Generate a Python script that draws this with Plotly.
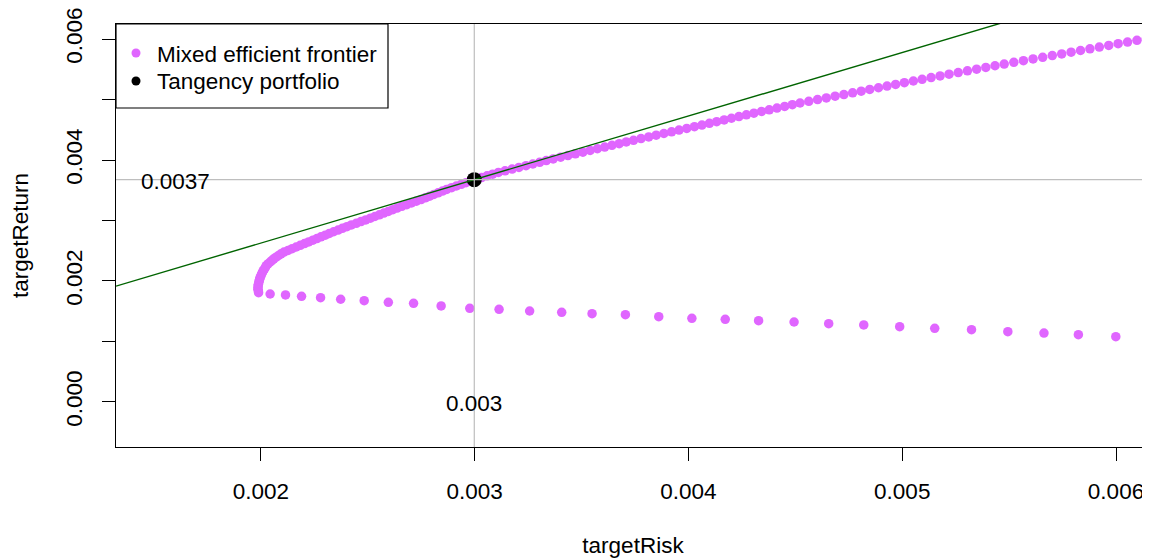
import plotly.graph_objects as go

# ---------------- data ----------------
upper_risk = [
    0.001988, 0.001986, 0.001986, 0.001987, 0.001988,
    0.001990, 0.001992, 0.001994,
    0.001996, 0.002000, 0.002003, 0.002007,
    0.002011, 0.002016, 0.002021, 0.002025,
    0.002033, 0.002042, 0.002051, 0.002060,
    0.002071, 0.002083, 0.002094,
    0.002108, 0.002127, 0.002146, 0.002165,
    0.002184, 0.002204, 0.002223, 0.002243, 0.002262,
    0.002281, 0.002301, 0.002320,
    0.002340, 0.002361, 0.002381, 0.002402,
    0.002423, 0.002446, 0.002468, 0.002490,
    0.002512, 0.002533, 0.002554,
    0.002575, 0.002596, 0.002617, 0.002637,
    0.002659, 0.002682, 0.002704, 0.002727,
    0.002749, 0.002769, 0.002789, 0.002809, 0.002829, 0.002849, 0.002869,
    0.002892, 0.002914, 0.002937, 0.002959, 0.002982,
    0.003006, 0.003032, 0.003058, 0.003084, 0.003111,
    0.003142, 0.003175, 0.003207, 0.003240,
    0.003272, 0.003304, 0.003335,
    0.003367, 0.003402, 0.003436, 0.003471, 0.003506,
    0.003540, 0.003574, 0.003608, 0.003642, 0.003676, 0.003709, 0.003743,
    0.003778, 0.003814, 0.003849, 0.003885, 0.003921, 0.003956, 0.003992, 0.004028,
    0.004063, 0.004098, 0.004132, 0.004167, 0.004201, 0.004236, 0.004271,
    0.004306, 0.004342, 0.004378, 0.004414, 0.004450, 0.004486, 0.004522,
    0.004563, 0.004604, 0.004645, 0.004686, 0.004727, 0.004768,
    0.004808, 0.004848, 0.004889, 0.004929, 0.004969,
    0.005010, 0.005052, 0.005093, 0.005135, 0.005177, 0.005219,
    0.005262, 0.005305, 0.005348, 0.005391, 0.005434,
    0.005477, 0.005522, 0.005567, 0.005612, 0.005657,
    0.005702, 0.005746, 0.005790, 0.005834, 0.005878, 0.005922,
    0.005966, 0.006010, 0.006054, 0.006098, 0.006142,
    0.006186, 0.006230,
]
upper_return = [
    0.001834, 0.001862, 0.001890, 0.001918, 0.001946,
    0.001974, 0.002002, 0.002030,
    0.002058, 0.002086, 0.002114, 0.002142,
    0.002170, 0.002198, 0.002226, 0.002254,
    0.002282, 0.002310, 0.002338, 0.002366,
    0.002394, 0.002422, 0.002450,
    0.002478, 0.002506, 0.002534, 0.002562,
    0.002590, 0.002618, 0.002646, 0.002674, 0.002702,
    0.002730, 0.002758, 0.002786,
    0.002814, 0.002842, 0.002870, 0.002898,
    0.002926, 0.002954, 0.002982, 0.003010,
    0.003038, 0.003066, 0.003094,
    0.003122, 0.003150, 0.003178, 0.003206,
    0.003234, 0.003262, 0.003290, 0.003318,
    0.003346, 0.003374, 0.003402, 0.003430, 0.003458, 0.003486, 0.003514,
    0.003542, 0.003570, 0.003598, 0.003626, 0.003654,
    0.003682, 0.003710, 0.003738, 0.003766, 0.003794,
    0.003822, 0.003850, 0.003878, 0.003906,
    0.003934, 0.003962, 0.003990,
    0.004018, 0.004046, 0.004074, 0.004102, 0.004130,
    0.004158, 0.004186, 0.004214, 0.004242, 0.004270, 0.004298, 0.004326,
    0.004354, 0.004382, 0.004410, 0.004438, 0.004466, 0.004494, 0.004522, 0.004550,
    0.004578, 0.004606, 0.004634, 0.004662, 0.004690, 0.004718, 0.004746,
    0.004774, 0.004802, 0.004830, 0.004858, 0.004886, 0.004914, 0.004942,
    0.004970, 0.004998, 0.005026, 0.005054, 0.005082, 0.005110,
    0.005138, 0.005166, 0.005194, 0.005222, 0.005250,
    0.005278, 0.005306, 0.005334, 0.005362, 0.005390, 0.005418,
    0.005446, 0.005474, 0.005502, 0.005530, 0.005558,
    0.005586, 0.005614, 0.005642, 0.005670, 0.005698,
    0.005726, 0.005754, 0.005782, 0.005810, 0.005838, 0.005866,
    0.005894, 0.005922, 0.005950, 0.005978, 0.006006,
    0.006034, 0.006062,
]
lower_risk = [
    0.001989, 0.002043, 0.002115, 0.002190, 0.002279, 0.002373, 0.002483,
    0.002596, 0.002714, 0.002843, 0.002977, 0.003114, 0.003257, 0.003407,
    0.003549, 0.003705, 0.003861, 0.004016, 0.004172, 0.004328, 0.004494,
    0.004656, 0.004820, 0.004988, 0.005152, 0.005324, 0.005494, 0.005663,
    0.005824, 0.005999, 0.006152,
]
lower_return = [
    0.001807, 0.001785, 0.001769, 0.001747, 0.001724, 0.001698, 0.001674,
    0.001648, 0.001631, 0.001587, 0.001549, 0.001532, 0.001504, 0.001483,
    0.001460, 0.001443, 0.001410, 0.001383, 0.001367, 0.001344, 0.001322,
    0.001294, 0.001273, 0.001245, 0.001218, 0.001195, 0.001162, 0.001140,
    0.001112, 0.001079, 0.001053,
]
tangency_risk = 0.002998
tangency_return = 0.003675
cml_slope = 1.05
cml_intercept = tangency_return - cml_slope * tangency_risk

x_tickvals = [0.002, 0.003, 0.004, 0.005, 0.006]
x_ticktext = ["0.002", "0.003", "0.004", "0.005", "0.006"]
y_tickvals = [0.000, 0.001, 0.002, 0.003, 0.004, 0.005, 0.006]
y_ticktext = ["0.000", "", "0.002", "", "0.004", "", "0.006"]
legend_labels = ["Mixed efficient frontier", "Tangency portfolio"]

x_range = [0.001322, 0.006159]
y_range = [-0.000744, 0.006248]

# ---------------- style ----------------
FONT = "Liberation Sans, Arial, sans-serif"
FS = 22.5
PINK = "#E066FF"

fig = go.Figure()

all_risk = upper_risk + lower_risk
all_return = upper_return + lower_return
fig.add_trace(go.Scatter(
    x=all_risk, y=all_return, mode="markers",
    marker=dict(color=PINK, size=9.5, line=dict(width=0)),
    name=legend_labels[0], showlegend=False, hoverinfo="x+y",
))
fig.add_trace(go.Scatter(
    x=[tangency_risk], y=[tangency_return], mode="markers",
    marker=dict(color="black", size=15, line=dict(width=0)),
    name=legend_labels[1], showlegend=False,
))
cml_x = [x_range[0], x_range[1]]
cml_y = [cml_intercept + cml_slope * v for v in cml_x]
fig.add_trace(go.Scatter(
    x=cml_x, y=cml_y, mode="lines",
    line=dict(color="#006400", width=1.4),
    showlegend=False, hoverinfo="skip",
))

# grey reference lines through the tangency portfolio
fig.add_shape(type="line", xref="x", yref="paper", x0=tangency_risk, x1=tangency_risk,
              y0=0, y1=1, line=dict(color="#BEBEBE", width=1.2), layer="above")
fig.add_shape(type="line", xref="paper", yref="y", x0=0, x1=1,
              y0=tangency_return, y1=tangency_return,
              line=dict(color="#BEBEBE", width=1.2), layer="above")

# value labels
fig.add_annotation(x=0.0016, y=tangency_return, xref="x", yref="y",
                   text=f"{round(tangency_return, 4)}", showarrow=False,
                   font=dict(family=FONT, size=FS, color="black"),
                   xanchor="center", yanchor="middle", yshift=-2)
fig.add_annotation(x=tangency_risk, y=0.0, xref="x", yref="y",
                   text=f"{round(tangency_risk, 3)}", showarrow=False,
                   font=dict(family=FONT, size=FS, color="black"),
                   xanchor="center", yanchor="middle", yshift=-2)

# legend box (drawn manually, R style)
W, H = 1034.0, 423.0
fig.add_shape(type="rect", xref="paper", yref="paper",
              x0=0, x1=272 / W, y0=1 - 84 / H, y1=1,
              line=dict(color="black", width=1.2), fillcolor="white", layer="above")
for i, (lab, col) in enumerate(zip(legend_labels, [PINK, "black"])):
    yc = 1 - (29 + 28 * i) / H
    fig.add_shape(type="circle", xref="paper", yref="paper",
                  xsizemode="pixel", ysizemode="pixel",
                  xanchor=20 / W, yanchor=yc,
                  x0=-4.5, x1=4.5, y0=-4.5, y1=4.5,
                  line=dict(width=0), fillcolor=col, layer="above")
    fig.add_annotation(x=39 / W, y=yc, xref="paper", yref="paper", text=lab,
                       showarrow=False, xanchor="left", yanchor="middle", yshift=-1,
                       font=dict(family=FONT, size=FS, color="black"))

# the page body has an 8px margin, so the figure is 8px smaller and margins shifted
fig.update_layout(
    width=1142, height=550,
    margin=dict(l=108, r=0, t=16, b=111),
    paper_bgcolor="white", plot_bgcolor="white",
    font=dict(family=FONT, size=FS, color="black"),
    showlegend=False,
    xaxis=dict(
        range=x_range, tickvals=x_tickvals, ticktext=x_ticktext,
        ticks="outside", ticklen=13, tickwidth=1, tickcolor="black",
        showline=True, linecolor="black", linewidth=1, mirror=True,
        showgrid=False, zeroline=False, ticklabelstandoff=11,
        ticklabeloverflow="allow",
        title=dict(text="targetRisk", standoff=43, font=dict(family=FONT, size=FS)),
        tickfont=dict(family=FONT, size=FS, color="black"),
        automargin=False,
    ),
    yaxis=dict(
        range=y_range, tickvals=y_tickvals, ticktext=y_ticktext, tickangle=-90,
        ticks="outside", ticklen=13, tickwidth=1, tickcolor="black",
        showline=True, linecolor="black", linewidth=1, mirror=False,
        showgrid=False, zeroline=False, ticklabelstandoff=11,
        ticklabeloverflow="allow",
        title=dict(text="targetReturn", standoff=36, font=dict(family=FONT, size=FS)),
        tickfont=dict(family=FONT, size=FS, color="black"),
        automargin=False,
    ),
)

fig.write_html("out.html")
